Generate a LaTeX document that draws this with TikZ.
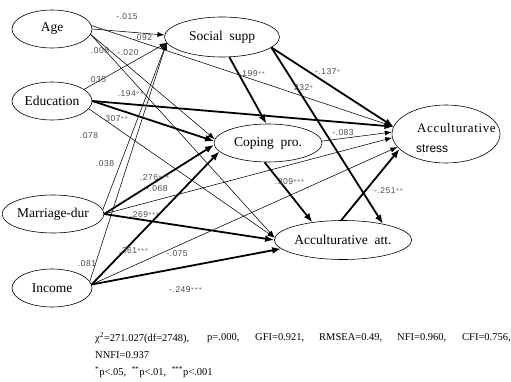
\documentclass[tikz,border=0pt]{standalone}
\usepackage{fontspec}
\setmainfont{Liberation Serif}
\newfontfamily\lblfont{Liberation Sans}
\usetikzlibrary{shapes.geometric,arrows.meta}
\begin{document}
\begin{tikzpicture}[x=1pt,y=-1pt,
  var/.style={draw,ellipse,line width=0.6pt,inner sep=0pt,minimum width=80pt,minimum height=38pt,font=\fontsize{13.5}{15}\selectfont},
  thinpath/.style={line width=0.55pt,-{Latex[length=7pt,width=5pt]}},
  thickpath/.style={line width=1.8pt,-{Latex[length=9pt,width=7pt]}},
  lbl/.style={font=\lblfont\fontsize{8.5}{9}\selectfont\addfontfeatures{LetterSpace=6},text=black!70,inner sep=0pt},
  foot/.style={font=\fontsize{10.5}{12}\selectfont,inner sep=0pt,anchor=west}
]
\useasboundingbox[fill=white] (0,0) rectangle (511,382);

% variables
\node[var] (age) at (52,29) {Age};
\node[var] (edu) at (52,101) {Education};
\node[var] (mar) at (53,214) {Marriage-dur};
\node[var] (inc) at (52,288) {Income};
\node[var,minimum width=115pt,minimum height=40pt] (soc) at (222,37) {Social\ \ supp};
\node[var,minimum width=108pt,minimum height=38pt] (cop) at (268,143) {Coping\ \ pro.};
\node[var,minimum width=108pt,minimum height=39pt] (att) at (343,240) {Acculturative\ \ att.};
\node[var,minimum width=108pt,minimum height=58pt] (str) at (446,134) {};
\node[inner sep=0pt,anchor=west,font=\fontsize{13}{15}\selectfont\addfontfeatures{LetterSpace=5}] (strA) at (417,128) {Acculturative};
\node[inner sep=0pt,anchor=west,font=\lblfont\fontsize{12}{13}\selectfont] (strB) at (416,149) {stress};

% paths from Age
\draw[thinpath] (age.east) -- (soc.178);
\draw[thinpath] (age.5) -- (str.172);
\draw[thinpath] (age.-8) -- (cop.176);
\draw[thinpath] (age.-8) -- (att.178);
% paths from Education
\draw[thinpath] (edu.20) -- (soc.186);
\draw[thickpath] (edu.east) -- (str.172);
\draw[thickpath] (edu.east) -- (cop.178);
\draw[thinpath] (edu.-12) -- (att.178);
% paths from Marriage-dur
\draw[thinpath] (mar.5) -- (soc.186);
\draw[thickpath] (mar.east) -- (cop.182);
\draw[thinpath] (mar.east) -- (str.184);
\draw[thickpath] (mar.east) -- (att.180);
% paths from Income
\draw[thinpath] (inc.10) -- (soc.186);
\draw[thickpath] (inc.5) -- (cop.190);
\draw[thinpath] (inc.5) -- (str.195);
\draw[thickpath] (inc.5) -- (att.188);
% mediators
\draw[thickpath] (soc.-70) -- (cop.95);
\draw[thickpath] (soc.-12) -- (att.22);
\draw[thickpath] (soc.-12) -- (str.172);
\draw[thickpath] (cop.-100) -- (att.150);
\draw[thinpath] (cop.2) -- (str.178);
\draw[thickpath] (att.95) -- (str.198);

% coefficients
\node[lbl] (l1) at (127,17) {-.015};
\node[lbl] (l2) at (143,38) {.092};
\node[lbl] (l3) at (100,51) {.008};
\node[lbl] (l4) at (128,53) {-.020};
\node[lbl] (l5) at (97,80) {.035};
\node[lbl] (l6) at (131,94) {.194$^{**}$};
\node[lbl] (l7) at (117,119) {307$^{**}$};
\node[lbl] (l8) at (89,136) {.078};
\node[lbl] (l9) at (105,164) {.038};
\node[lbl] (l10) at (155,178) {.276$^{***}$};
\node[lbl] (l11) at (157,189) {-.068};
\node[lbl] (l12) at (145,215) {.269$^{***}$};
\node[lbl] (l13) at (134,251) {.361$^{***}$};
\node[lbl] (l14) at (177,254) {-.075};
\node[lbl] (l15) at (186,290) {-.249$^{***}$};
\node[lbl] (l16) at (87,264) {.081};
\node[lbl] (l17) at (254,74) {199$^{**}$};
\node[lbl] (l18) at (328,72) {-.137$^{*}$};
\node[lbl] (l19) at (304,88) {232$^{*}$};
\node[lbl] (l20) at (343,133) {-.083};
\node[lbl] (l21) at (290,182) {.309$^{***}$};
\node[lbl] (l22) at (389,191) {-.251$^{**}$};

% fit indices
\node[foot] (f1) at (95,338) {χ\textsuperscript{2}=271.027(df=2748),};
\node[foot] (f2) at (207,338) {p=.000,};
\node[foot] (f3) at (255,338) {GFI=0.921,};
\node[foot] (f4) at (319,338) {RMSEA=0.49,};
\node[foot] (f5) at (397,338) {NFI=0.960,};
\node[foot] (f6) at (462,338) {CFI=0.756,};
\node[foot] (f7) at (95,355) {NNFI=0.937};
\node[foot] (f8) at (95,372) {\textsuperscript{*}p<.05,\ \ \textsuperscript{**}p<.01,\ \ \textsuperscript{***}p<.001};
\end{tikzpicture}
\end{document}
